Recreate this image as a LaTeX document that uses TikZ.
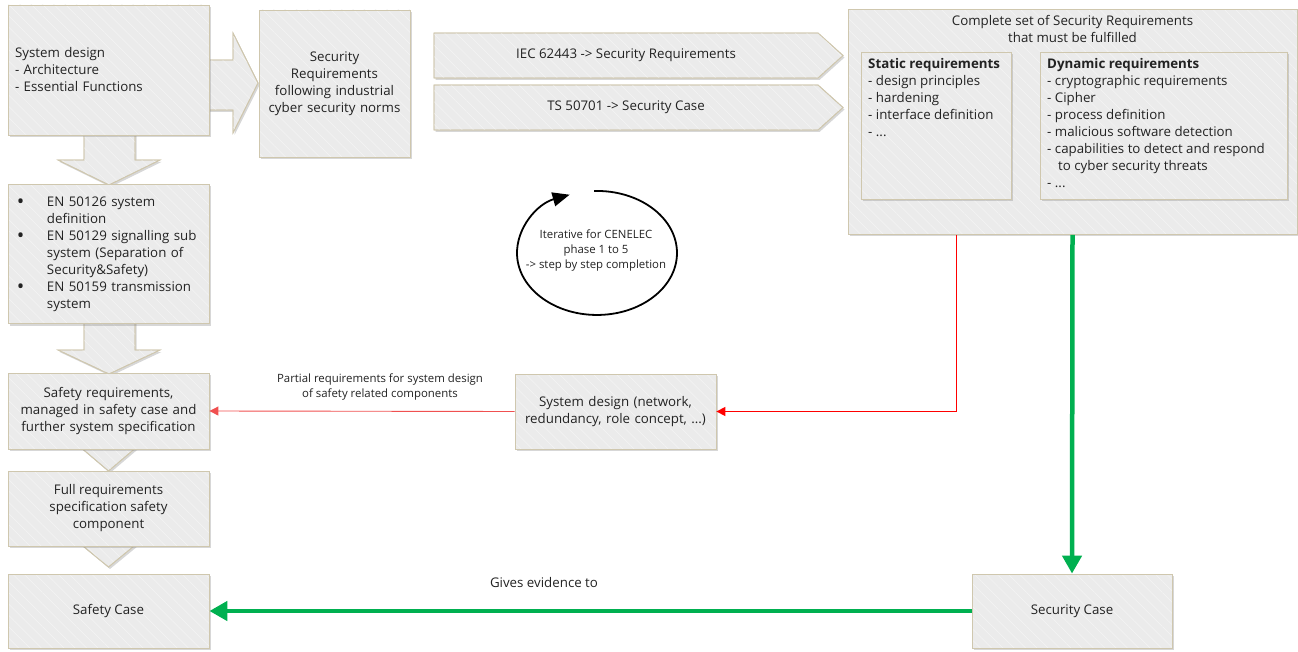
\documentclass[tikz,border=0pt]{standalone}
\usepackage{fontspec}
\setmainfont{Open Sans}
\usetikzlibrary{shadows,arrows.meta,calc,patterns.meta}
\definecolor{boxfill}{HTML}{EBEBEB}
\definecolor{boxborder}{HTML}{CFC7AE}
\definecolor{hatch}{HTML}{F3F3F3}
\definecolor{txt}{HTML}{222222}
\definecolor{grn}{HTML}{00B050}
\definecolor{redl}{HTML}{FF0000}
\definecolor{redthin}{HTML}{F05050}
\newcommand{\bul}{\raisebox{-2pt}{\scalebox{1.5}{•}}}
\begin{document}
\begin{tikzpicture}[x=1pt,y=-1pt,
  every node/.style={text=txt, font=\fontsize{13.3}{17}\selectfont},
  shad/.style={drop shadow={shadow xshift=1.5pt,shadow yshift=-2pt,opacity=0.35,fill=black!45}},
  hatched/.style={postaction={pattern={Lines[angle=-45,distance=8pt,line width=0.7pt]}, pattern color=hatch},
                  postaction={draw=boxborder, line width=0.8pt}},
  box/.style={draw=boxborder, fill=boxfill, line width=0.8pt, shad, hatched, inner sep=0pt, align=center},
  barrow/.style={draw=boxborder, fill=boxfill, line width=0.8pt, shad, hatched},
  small/.style={font=\fontsize{11.4}{15}\selectfont, align=center},
  lbl/.style={inner sep=0pt, align=left},
  greenline/.style={draw=grn, line width=4.5pt, -{Triangle[length=18pt,width=19pt]}},
  redline/.style={draw=redl, line width=1.3pt, -{Triangle[length=9pt,width=9pt]}},
  redthinline/.style={draw=redthin, line width=0.9pt, -{Triangle[length=9pt,width=9pt]}},
  loopline/.style={draw=black, line width=1.8pt, -{Triangle[length=17pt,width=14pt]}}
]
\useasboundingbox (0,0) rectangle (1298,652);

% block arrows (drawn first, under the boxes)
\path[barrow] (200,60) -- (233,60) -- (233,33) -- (258,83) -- (233,133) -- (233,110) -- (200,110) -- cycle;
\path[barrow] (84,128) -- (84,160) -- (58,160) -- (109,185) -- (160,160) -- (135,160) -- (135,128) -- cycle;
\path[barrow] (84,318) -- (84,350) -- (58,350) -- (109,374) -- (160,350) -- (135,350) -- (135,318) -- cycle;
\path[barrow] (72,440) -- (108.5,471) -- (145,440) -- cycle;
\path[barrow] (72,537) -- (108.5,567) -- (145,537) -- cycle;

% pentagon arrows
\path[barrow] (434,33) -- (818,33) -- (843,55.5) -- (818,78) -- (434,78) -- cycle;
\node (iec) at (626,55.5) {IEC 62443 -> Security Requirements};
\path[barrow] (434,85) -- (818,85) -- (843,107.5) -- (818,130) -- (434,130) -- cycle;
\node (ts) at (626,107.5) {TS 50701 -> Security Case};

% left column
\node[box, minimum width=201pt, minimum height=130pt, text width=187pt, align=left] (sys) at (108.5,70)
  {System design\\- Architecture\\- Essential Functions};
\node[box, minimum width=151pt, minimum height=147pt, text width=149pt] (secreq) at (334.5,83.5)
  {Security\\Requirements\\following industrial\\cyber security norms};
\node[box, minimum width=201pt, minimum height=139pt, text width=201pt, align=left] (en) at (108.5,254)
  {\begin{tabular}{@{\hspace{9pt}}p{30pt}@{}l@{}}
   \bul & EN 50126 system\\
     & definition\\
   \bul & EN 50129 signalling sub\\
     & system (Separation of\\
     & Security\&Safety)\\
   \bul & EN 50159 transmission\\
     & system
  \end{tabular}};
\node[box, minimum width=201pt, minimum height=76pt, text width=199pt] (sr) at (108.5,411)
  {Safety requirements,\\managed in safety case and\\further system specification};
\node[box, minimum width=201pt, minimum height=75pt] (full) at (108.5,508.5)
  {Full requirements\\specification safety\\component};
\node[box, minimum width=201pt, minimum height=74pt] (sc) at (108.5,611) {Safety Case};

% big box
\node[box, minimum width=449pt, minimum height=225pt] (big) at (1072.5,122) {};
\node[inner sep=0pt, anchor=north, align=center] (bigtitle) at (1072.5,15)
  {Complete set of Security Requirements\\that must be fulfilled};
\node[box, minimum width=150pt, minimum height=147pt] (static) at (936,125.5) {};
\node[lbl, anchor=north west] (statictxt) at (868,58)
  {\textbf{Static requirements}\\- design principles\\- hardening\\- interface definition\\- ...};
\node[box, minimum width=247pt, minimum height=147pt] (dyn) at (1163.5,125.5) {};
\node[lbl, anchor=north west] (dyntxt) at (1047,58)
  {\textbf{Dynamic requirements}\\- cryptographic requirements\\- Cipher\\- process definition\\- malicious software detection\\- capabilities to detect and respond\\\hspace*{11pt}to cyber security threats\\- ...};

% middle
\node[box, minimum width=201pt, minimum height=75pt, text width=199pt] (sd) at (615.5,411.5)
  {System design (network,\\redundancy, role concept, ...)};
\node[box, minimum width=200pt, minimum height=74pt] (sec) at (1072,611) {Security Case};

% loop
\draw[loopline] (594.2,191) arc[start angle=268, end angle=610, x radius=80, y radius=62];
\node[small] (looptxt) at (596,251) {Iterative for CENELEC\\phase 1 to 5\\-> step by step completion};

% connectors
\draw[redline] ([xshift=109pt]big.south west) |- (sd.east);
\draw[redthinline] (sd.west) -- (sr.east);
\node[small] (partial) at (380,387) {Partial requirements for system design\\of safety related components};
\draw[greenline] (big.south) -- (sec.north);
\draw[greenline] (sec.west) -- (sc.east);
\node (gives) at (544,583) {Gives evidence to};
\end{tikzpicture}
\end{document}
